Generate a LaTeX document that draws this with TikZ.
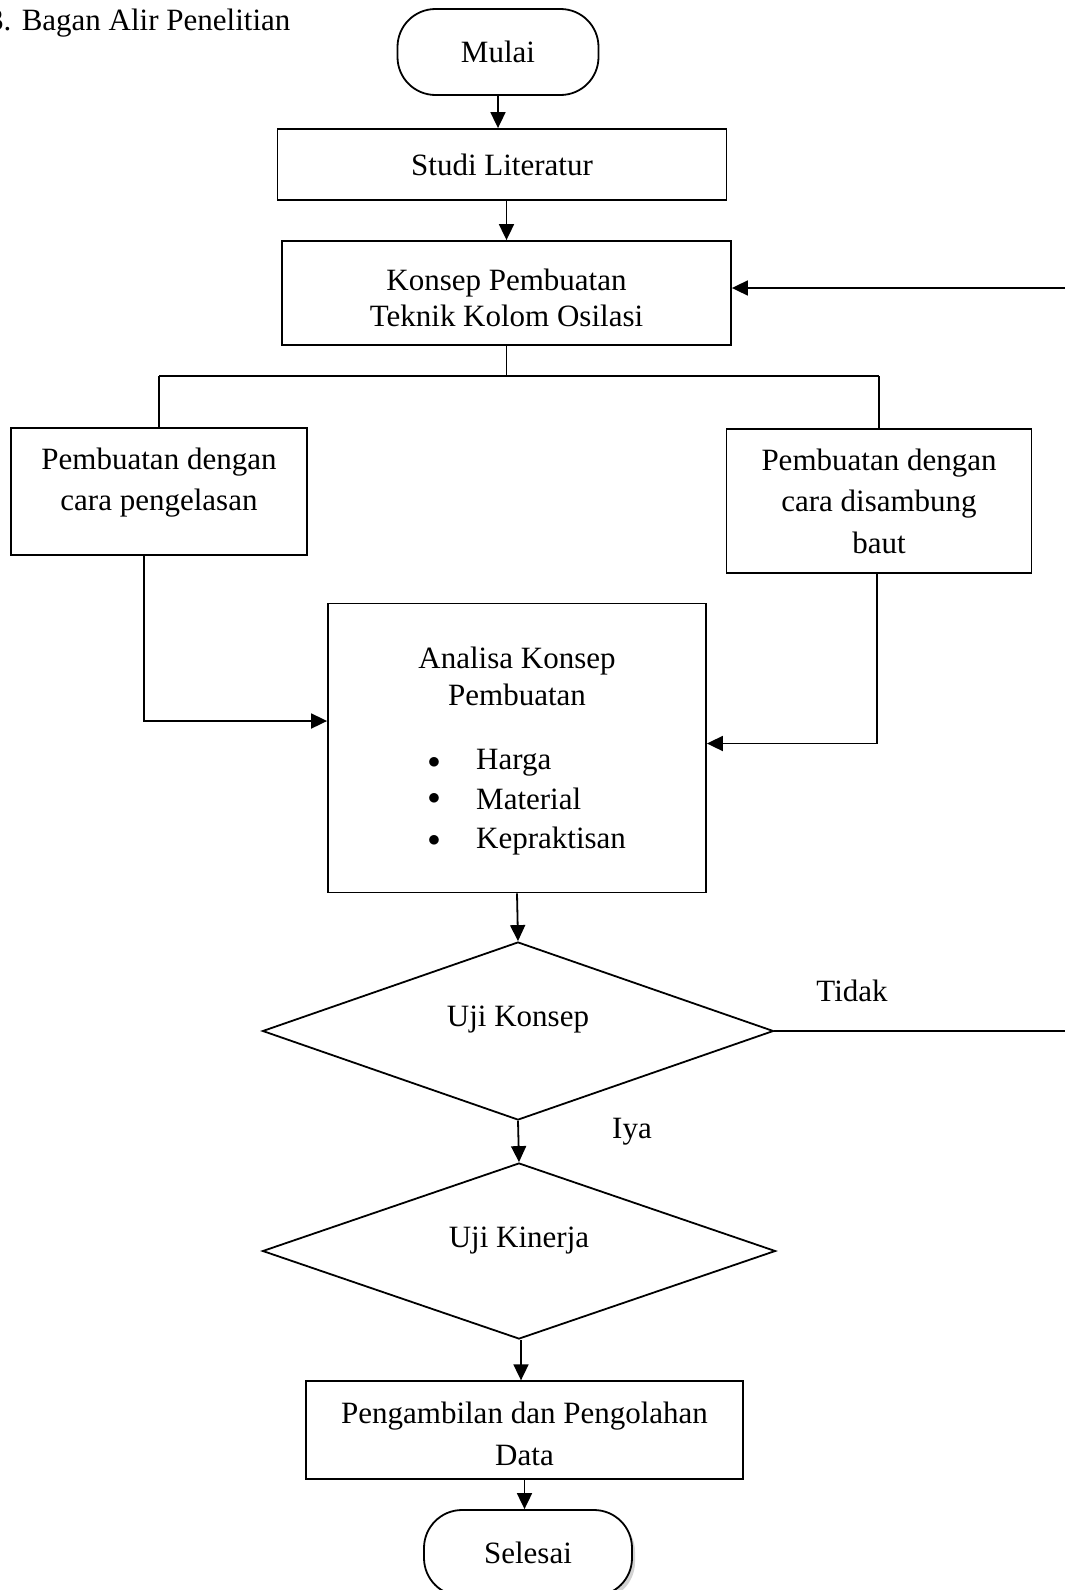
\documentclass[tikz,border=0pt]{standalone}
\usepackage{fontspec}
\setmainfont{Liberation Serif}
\usetikzlibrary{arrows.meta,shapes.geometric,shadows}

\tikzset{
  teks/.style={font=\fontsize{31}{41.5}\selectfont, inner sep=0pt},
  kotak/.style={teks, draw, rectangle, line width=1.8pt, align=center},
  terminal/.style={kotak, rounded corners=38pt, minimum width=201pt, minimum height=86pt},
  keputusan/.style={teks, draw, diamond, line width=1.8pt, inner sep=0pt},
  garis/.style={line width=1.8pt},
  panah/.style={garis, -{Triangle[length=16pt,width=15pt]}}
}

\begin{document}
\begin{tikzpicture}[x=1pt,y=-1pt]
  \useasboundingbox (0,0) rectangle (1065,1590);

  \node[teks, anchor=base west] (judul) at (-12,30) {3. Bagan Alir Penelitian};

  \node[terminal] (mulai) at (498,52) {Mulai};
  \node[kotak, minimum width=449pt, minimum height=71pt] (studi) at (502,164.5) {Studi Literatur};
  \node[kotak, minimum width=449pt, minimum height=104pt,
        label={[teks, align=center, font=\fontsize{31}{35.5}\selectfont, yshift=-5pt]center:Konsep Pembuatan\\Teknik Kolom Osilasi}]
        (konsep) at (506.5,293) {};
  \node[kotak, minimum width=296pt, minimum height=127pt,
        label={[teks, align=center, yshift=9pt]center:Pembuatan dengan\\cara pengelasan}]
        (pengelasan) at (159,491.5) {};
  \node[kotak, minimum width=305pt, minimum height=144pt] (baut) at (879,501)
        {Pembuatan dengan\\cara disambung\\baut};
  \node[kotak, minimum width=378pt, minimum height=289pt] (analisa) at (517,748) {};
  \node[teks, align=center, font=\fontsize{31}{37}\selectfont] (analisaJudul) at (517,676)
        {Analisa Konsep\\Pembuatan};
  \foreach \y/\isi [count=\i] in {763/Harga, 799/Material, 841/Kepraktisan}{
    \node[teks] (titik\i) at (434,\y) {$\bullet$};
    \node[teks, anchor=west] (butir\i) at (476,\y) {\isi};
  }
  \node[keputusan, minimum width=511pt, minimum height=178pt,
        label={[teks, yshift=11pt]center:Uji Konsep}] (ujiKonsep) at (518,1031) {};
  \node[keputusan, minimum width=513pt, minimum height=176pt,
        label={[teks, yshift=10pt]center:Uji Kinerja}] (ujiKinerja) at (519,1251) {};
  \node[kotak, minimum width=437pt, minimum height=97.5pt,
        label={[teks, align=center, yshift=-4pt]center:Pengambilan dan Pengolahan\\Data}]
        (pengambilan) at (524.5,1430) {};
  \node[terminal, minimum width=208pt, fill=white,
        drop shadow={shadow xshift=3pt, shadow yshift=-4pt, fill=gray!70}]
        (selesai) at (528,1553) {Selesai};

  \node[teks] (tidak) at (852,991) {Tidak};
  \node[teks] (iya) at (632,1132) {Iya};

  \coordinate (cabang) at (506.5,376);
  \coordinate (tepiTidak) at (1065,1031);
  \coordinate (tepiBalik) at (1065,288);

  % alur utama
  \draw[panah] (mulai.south) -- (mulai.south |- studi.north);
  \draw[panah] (konsep.north |- studi.south) -- (konsep.north);
  \draw[garis] (konsep.south) -- (cabang);
  \draw[garis] (cabang -| pengelasan.north) -- (cabang -| baut.north);
  \draw[garis] (cabang -| pengelasan.north) -- (pengelasan.north);
  \draw[garis] (cabang -| baut.north) -- (baut.north);
  \draw[panah] ([xshift=-15pt]pengelasan.south) |- ([yshift=27pt]analisa.west);
  \draw[panah] ([xshift=-2pt]baut.south) |- ([yshift=4.5pt]analisa.east);
  \draw[panah] (analisa.south) -- (ujiKonsep.north);
  \draw[panah] (ujiKonsep.south) -- (ujiKinerja.north);
  \draw[panah] ([xshift=2pt]ujiKinerja.south) -- ([xshift=2pt]ujiKinerja.south |- pengambilan.north);
  \draw[panah] (pengambilan.south) -- (pengambilan.south |- selesai.north);

  % balik ke konsep
  \draw[garis] (ujiKonsep.east) -- (tepiTidak);
  \draw[panah] (tepiBalik) -- (konsep.east |- tepiBalik);
\end{tikzpicture}
\end{document}
